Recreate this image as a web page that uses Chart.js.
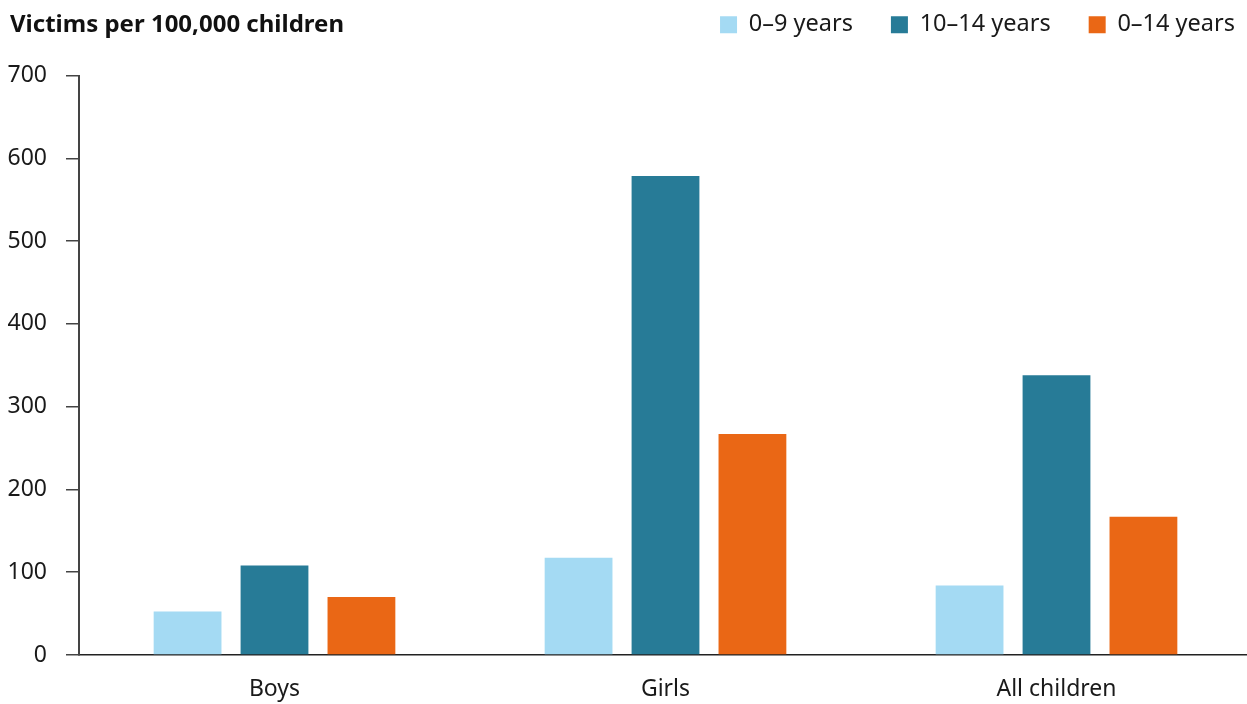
<!DOCTYPE html>
<html>
<head>
<meta charset="utf-8">
<script src="https://cdn.jsdelivr.net/npm/chart.js@4.4.1/dist/chart.umd.min.js"></script>
<style>
  html, body { margin: 0; padding: 0; background: #fff; overflow: hidden; }
  #wrap { position: relative; width: 1252px; height: 704px; }
  #titulo { position: absolute; left: 10px; top: 6px; font: bold 24px "Noto Sans"; color: #111; white-space: nowrap; }
</style>
</head>
<body>
<div id="wrap">
  <canvas id="migrafico" width="1252" height="704"></canvas>
  <div id="titulo">Victims per 100,000 children</div>
</div>
<script>
const categorias = ["Boys", "Girls", "All children"];
const edades0a9 = [52.5, 117.5, 84];
const edades10a14 = [108, 578.5, 338];
const edades0a14 = [70, 267, 167];
const ticksY = [0, 100, 200, 300, 400, 500, 600, 700];

const ctx = document.getElementById("migrafico").getContext("2d");

//mover la leyenda arriba a la derecha, al nivel del titulo
const moverLeyenda = {
    id: "moverLeyenda",
    afterLayout(chart) {
        const l = chart.legend;
        l.top -= 29; l.bottom -= 29;
        l.left += 21; l.right += 21;
    }
};

//barras
const myChart = new Chart(ctx, {
    type: "bar",
    data: {
        labels: categorias,
        datasets: [
            { label: "0–9 years", data: edades0a9, backgroundColor: "rgb(164,218,243)" },
            { label: "10–14 years", data: edades10a14, backgroundColor: "rgb(39,123,151)" },
            { label: "0–14 years", data: edades0a14, backgroundColor: "rgb(234,103,21)" }
        ]
    },
    plugins: [moverLeyenda],
    options: {
        responsive: false,
        animation: false,
        categoryPercentage: 0.667,
        barPercentage: 0.78,
        layout: { padding: { left: 7, right: 0, top: 4, bottom: 0 } },
        plugins: {
            tooltip: { enabled: false },
            legend: {
                position: "top",
                align: "end",
                labels: {
                    boxWidth: 17,
                    boxHeight: 17,
                    padding: 38,
                    color: "#1a1a1a",
                    font: { family: "Noto Sans", size: 23.5 }
                }
            }
        },
        scales: {
            x: {
                afterFit: s => { s.height = 49; },
                grid: { display: false, drawTicks: false },
                border: { display: true, color: "#222", width: 1.5 },
                ticks: {
                    color: "#1a1a1a",
                    padding: 21,
                    font: { family: "Noto Sans", size: 23 }
                }
            },
            y: {
                min: 0,
                max: 700,
                afterBuildTicks: s => { s.ticks = ticksY.map(v => ({ value: v })); },
                afterFit: s => { s.width = 72; },
                grid: { drawOnChartArea: false, drawTicks: true, tickLength: 13, color: "#444", lineWidth: 1.5 },
                border: { display: true, color: "#444", width: 2 },
                ticks: {
                    color: "#1a1a1a",
                    padding: 19,
                    font: { family: "Noto Sans", size: 23 }
                }
            }
        }
    }
});
</script>
</body>
</html>
